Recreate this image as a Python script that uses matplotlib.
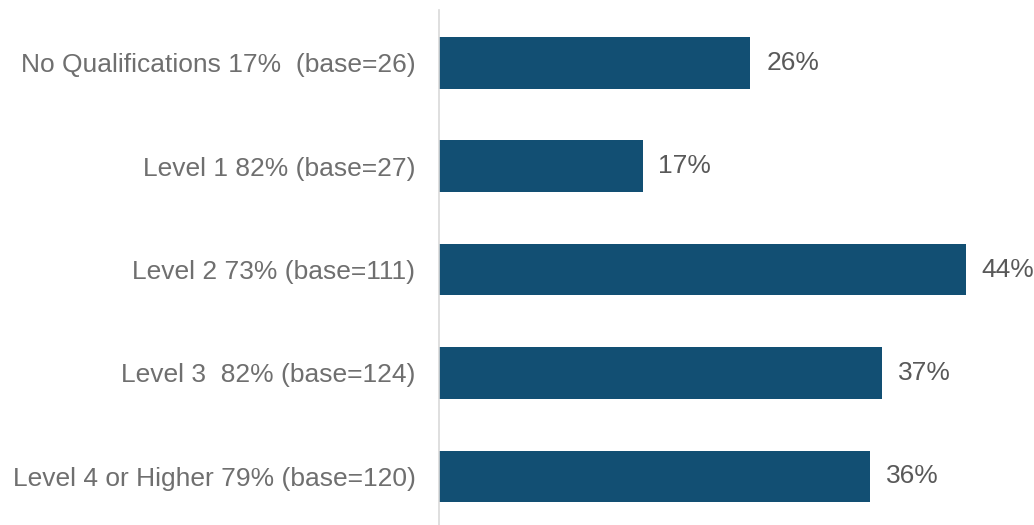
import matplotlib.pyplot as plt
import numpy as np

plt.rcParams['font.family'] = ['Liberation Sans', 'DejaVu Sans']

# categories and values
labels = ["No Qualifications 17%  (base=26)",
          "Level 1 82% (base=27)",
          "Level 2 73% (base=111)",
          "Level 3  82% (base=124)",
          "Level 4 or Higher 79% (base=120)"]
values = [26, 17, 44, 37, 36]

bar_color = '#124f73'
text_color = '#6f6f6f'

fig = plt.figure(figsize=(10.34, 5.25), dpi=100)
ax = fig.add_axes([439 / 1034, 0, 1 - 439 / 1034, 1 - 10 / 525])

y = np.arange(len(labels))
ax.barh(y, values, height=0.5, color=bar_color)

for yi, v in zip(y, values):
    ax.annotate(f"{v}%", xy=(v, yi), xytext=(11.5, 0), textcoords='offset points',
                va='center', ha='left', fontsize=19, color='#595959')

ax.set_yticks(y)
ax.set_yticklabels(labels, fontsize=19, color=text_color)
ax.tick_params(axis='y', length=0, pad=17)
ax.set_xticks([])
ax.set_xlim(0, 49.7)
ax.set_ylim(4.47, -0.51)

for s in ['top', 'right', 'bottom']:
    ax.spines[s].set_visible(False)
ax.spines['left'].set_color('#d9d9d9')
ax.spines['left'].set_linewidth(1.2)

fig.savefig('out.png', dpi=100)
